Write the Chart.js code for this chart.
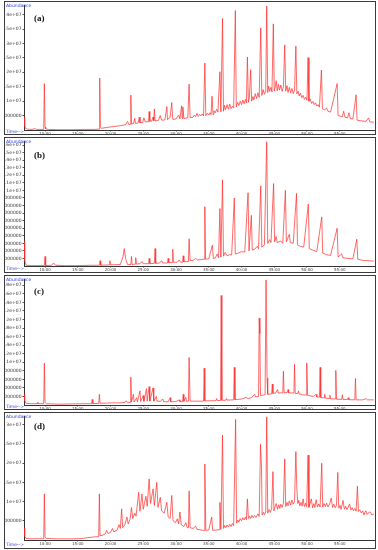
<!DOCTYPE html>
<html>
<head>
<meta charset="utf-8">
<script src="https://cdn.jsdelivr.net/npm/chart.js@4.4.1/dist/chart.umd.min.js"></script>
<style>
    body { margin: 0; background: #fff; width: 378px; height: 550px; position: relative; overflow: hidden; }
    .panel { position: absolute; left: 4px; width: 370px; border: 1px solid #3c3c3c; box-sizing: content-box; }
    .panel canvas { position: absolute; left: 0; top: 0; }
    .abund { position: absolute; left: 1px; top: 1px; font: 4.5px "DejaVu Sans", sans-serif; color: #2b3bd6; }
    .time { position: absolute; left: 1px; font: 4.5px "DejaVu Sans", sans-serif; color: #2b3bd6; }
    .tag { position: absolute; left: 29px; font: bold 9px "Liberation Serif", serif; color: #111; }
</style>
</head>
<body>
<div class="panel" id="pa" style="top:1px;height:132px"><canvas id="ca" width="370" height="132"></canvas><span class="abund">Abundance</span><span class="time" style="top:127px">Time--&gt;</span><span class="tag" style="top:11px">(a)</span></div>
<div class="panel" id="pb" style="top:137px;height:134px"><canvas id="cb" width="370" height="134"></canvas><span class="abund">Abundance</span><span class="time" style="top:128px">Time--&gt;</span><span class="tag" style="top:12px">(b)</span></div>
<div class="panel" id="pc" style="top:275px;height:133px"><canvas id="cc" width="370" height="133"></canvas><span class="abund">Abundance</span><span class="time" style="top:128px">Time--&gt;</span><span class="tag" style="top:10px">(c)</span></div>
<div class="panel" id="pd" style="top:412px;height:135px"><canvas id="cd" width="370" height="135"></canvas><span class="abund">Abundance</span><span class="time" style="top:129px">Time--&gt;</span><span class="tag" style="top:8px">(d)</span></div>
<script>
"use strict";

// Retention time axis (min) and tick labels
var timeMin = 6.79;
var timeMax = 60.23;
var timeTicks = [10, 15, 20, 25, 30, 35, 40, 45, 50, 55];

// Chromatograms: [retention time (min), abundance (x1e6)]
var traceA = [
    [6.8, 4.4], [6.9, 1.5], [7.0, 0.6], [7.3, 0.3], [8.0, 0.2], [8.5, 0.5], [8.7, 0.2], [9.8, 0.2],
    [9.9, 16.1], [10.0, 1.0], [10.1, 0.4], [10.5, 0.2], [12, 0.1], [14, 0.1], [16, 0.2], [17.5, 0.2],
    [18.25, 0.3], [18.35, 18.0], [18.45, 1.0], [18.6, 0.6], [19.5, 0.9], [20.5, 1.2], [21.5, 1.5],
    [22.3, 1.8], [22.6, 3.0], [22.8, 1.9], [23.0, 2.0], [23.1, 12.1], [23.2, 2.1], [23.5, 2.2],
    [23.7, 4.0], [23.8, 2.3], [24.2, 2.4], [24.4, 4.5], [24.5, 2.5], [24.9, 2.6], [25.1, 4.2],
    [25.3, 2.8], [25.8, 2.9], [25.9, 6.4], [26.0, 3.0], [26.3, 3.1], [26.5, 4.5], [26.6, 3.2],
    [26.7, 7.3], [26.8, 3.2], [27.3, 3.3], [27.6, 5.0], [27.8, 3.4], [28.3, 3.5], [28.6, 8.1],
    [28.7, 3.6], [29.1, 4.4], [29.35, 9.5], [29.5, 3.7], [30.0, 3.8], [30.4, 5.2], [30.6, 3.9],
    [30.85, 8.4], [30.95, 4.0], [31.05, 8.0], [31.2, 4.0], [31.8, 4.2], [32.0, 15.9], [32.15, 4.3],
    [32.6, 4.4], [32.8, 5.2], [33.0, 4.6], [33.2, 5.8], [33.4, 4.7], [33.6, 5.4], [33.8, 4.9],
    [34.0, 5.6], [34.2, 4.9], [34.4, 23.2], [34.55, 5.0], [34.8, 5.8], [35.0, 5.2], [35.2, 6.0],
    [35.35, 5.3], [35.5, 11.7], [35.65, 5.4], [35.8, 6.6], [36.0, 6.0], [36.2, 7.2], [36.4, 6.2],
    [36.7, 20.2], [36.85, 6.3], [37.1, 38.7], [37.25, 6.5], [37.4, 8.6], [37.55, 7.0], [37.8, 8.8],
    [38.0, 7.2], [38.2, 9.0], [38.4, 7.4], [38.6, 8.2], [38.8, 7.6], [39.06, 41.4], [39.2, 8.0],
    [39.4, 9.6], [39.6, 8.5], [39.8, 10.0], [40.0, 8.8], [40.2, 10.4], [40.4, 9.1], [40.6, 10.6],
    [40.75, 9.4], [40.9, 25.3], [41.05, 9.6], [41.2, 11.2], [41.4, 20.9], [41.55, 10.0], [41.75, 11.6],
    [41.9, 10.4], [42.1, 12.6], [42.3, 10.9], [42.5, 12.9], [42.7, 11.3], [42.94, 35.4], [43.1, 12.0],
    [43.3, 14.0], [43.5, 12.4], [43.7, 13.4], [43.85, 43.0], [44.0, 13.0], [44.15, 15.2], [44.3, 13.4],
    [44.5, 14.8], [44.65, 13.2], [44.86, 36.8], [45.0, 13.5], [45.15, 15.0], [45.3, 17.1], [45.45, 13.6],
    [45.65, 15.8], [45.8, 13.8], [46.0, 15.6], [46.2, 13.4], [46.4, 15.0], [46.6, 29.5], [46.75, 13.5],
    [46.95, 15.4], [47.1, 13.0], [47.3, 14.8], [47.5, 12.9], [47.7, 14.4], [47.9, 12.6], [48.1, 13.8],
    [48.3, 29.1], [48.45, 12.5], [48.65, 13.4], [48.8, 11.8], [49.0, 12.8], [49.2, 11.2], [49.4, 12.0],
    [49.6, 10.6], [49.8, 11.4], [50.0, 10.3], [50.16, 25.1], [50.3, 10.0], [50.5, 10.8], [50.7, 9.2],
    [50.9, 9.9], [51.1, 8.8], [51.3, 9.4], [51.5, 8.3], [51.7, 8.8], [51.9, 7.9], [52.2, 20.8],
    [52.35, 7.4], [52.7, 7.0], [53.0, 7.6], [53.2, 6.5], [53.6, 6.2], [54.6, 16.1], [54.75, 5.0],
    [55.4, 4.6], [55.6, 6.5], [55.8, 4.4], [56.2, 4.2], [56.4, 6.0], [56.6, 4.0], [57.0, 3.8],
    [57.5, 12.2], [57.65, 3.4], [58.2, 3.2], [59.0, 3.0], [59.4, 4.2], [59.6, 2.8], [60.2, 2.7]
];

var traceB = [
    [6.8, 3.3], [6.9, 0.8], [7.1, 0.1], [8, 0.05], [9.9, 0.05], [10.0, 1.26], [10.1, 0.05], [11.0, 0.1],
    [11.3, 0.4], [11.6, 0.1], [13, 0.05], [15, 0.05], [17, 0.1], [18.3, 0.1], [18.4, 0.7], [18.5, 0.1],
    [19.8, 0.15], [19.9, 0.7], [20.0, 0.15], [21.5, 0.2], [21.9, 1.2], [22.1, 2.3], [22.3, 1.0],
    [22.6, 0.2], [23.1, 0.2], [23.2, 1.26], [23.3, 0.2], [23.75, 0.25], [23.85, 1.1], [23.95, 0.25],
    [24.5, 0.3], [24.8, 0.6], [25.0, 0.3], [25.8, 0.3], [25.9, 1.0], [26.0, 0.3], [26.7, 0.35],
    [26.8, 2.3], [26.9, 0.35], [27.5, 0.4], [27.8, 0.7], [28.0, 0.4], [28.7, 0.4], [28.8, 1.0],
    [28.9, 0.45], [29.4, 0.45], [29.5, 2.2], [29.6, 0.5], [30.2, 0.5], [30.5, 0.8], [30.7, 0.5],
    [31.0, 0.5], [31.1, 1.35], [31.2, 0.55], [31.9, 0.6], [32.0, 3.6], [32.15, 0.7], [32.6, 0.75],
    [33.0, 1.0], [33.3, 0.8], [34.3, 0.9], [34.4, 7.85], [34.5, 0.9], [35.0, 0.95], [35.55, 2.75],
    [35.7, 1.0], [36.0, 1.05], [36.3, 1.6], [36.5, 1.1], [36.7, 7.6], [36.85, 1.2], [37.1, 11.4],
    [37.25, 1.3], [37.5, 1.8], [37.8, 1.35], [38.2, 1.5], [38.5, 1.45], [38.9, 9.0], [39.05, 1.6],
    [39.5, 1.7], [40.0, 1.9], [40.5, 1.85], [41.0, 9.7], [41.15, 2.0], [41.5, 6.7], [41.65, 2.1],
    [42.0, 2.2], [42.4, 2.6], [42.6, 2.3], [42.94, 10.6], [43.1, 2.5], [43.5, 2.8], [43.85, 16.6],
    [44.0, 3.0], [44.3, 3.5], [44.5, 3.1], [44.9, 10.9], [45.05, 3.2], [45.3, 3.9], [45.45, 3.1],
    [46.0, 3.3], [46.3, 3.0], [46.7, 10.0], [46.85, 3.2], [47.3, 4.2], [47.45, 3.1], [47.9, 3.0],
    [48.4, 9.6], [48.55, 2.8], [49.0, 2.6], [49.5, 2.5], [50.2, 8.2], [50.35, 2.3], [50.9, 2.1],
    [51.5, 1.9], [52.25, 6.5], [52.4, 1.7], [53.0, 1.5], [53.6, 1.4], [54.6, 5.0], [54.75, 1.2],
    [55.3, 1.6], [55.45, 1.1], [56.2, 1.0], [57.0, 0.95], [57.6, 3.55], [57.75, 0.9], [58.5, 0.75],
    [59.3, 0.7], [60.2, 0.65]
];

var traceC = [
    [6.8, 2.5], [6.9, 1.0], [7.1, 0.4], [8.0, 0.3], [8.85, 0.3], [8.9, 0.7], [8.95, 0.3], [9.8, 0.3],
    [9.9, 9.8], [10.0, 0.6], [10.2, 0.3], [12, 0.2], [14, 0.25], [16, 0.3], [17.1, 0.3], [17.2, 1.3],
    [17.3, 0.35], [18.2, 0.35], [18.3, 2.5], [18.4, 0.4], [19.5, 0.45], [20.5, 0.5], [21.5, 0.5],
    [22.2, 0.6], [22.4, 1.0], [22.6, 0.6], [23.0, 0.65], [23.1, 6.5], [23.2, 0.7], [23.5, 2.5],
    [23.6, 0.7], [24.0, 1.7], [24.1, 0.75], [24.5, 3.3], [24.6, 0.8], [25.0, 2.2], [25.1, 0.85],
    [25.5, 3.8], [25.6, 0.9], [25.9, 4.3], [26.0, 0.9], [26.5, 4.0], [26.6, 0.9], [27.0, 2.0],
    [27.1, 0.9], [27.6, 0.85], [28.0, 1.4], [28.1, 0.8], [28.8, 0.75], [29.1, 1.7], [29.2, 0.75],
    [30.0, 0.8], [30.5, 1.2], [30.6, 0.8], [31.0, 0.8], [31.1, 2.5], [31.2, 0.85], [31.5, 1.8],
    [31.6, 0.85], [31.9, 0.9], [32.0, 11.1], [32.15, 0.9], [33.0, 0.9], [34.2, 0.9], [34.3, 8.6],
    [34.4, 0.95], [35.5, 1.0], [36.1, 1.0], [36.2, 1.5], [36.3, 1.05], [36.8, 1.05], [36.9, 25.6],
    [37.0, 1.1], [37.6, 1.1], [37.7, 1.5], [37.8, 1.15], [38.8, 1.2], [38.9, 8.8], [39.0, 1.25],
    [40.0, 1.4], [40.8, 1.8], [40.9, 1.5], [41.5, 1.7], [42.0, 2.5], [42.15, 1.9], [42.6, 2.0],
    [42.7, 20.3], [42.8, 16.7], [42.9, 2.2], [43.6, 2.4], [43.75, 29.3], [43.9, 6.3], [44.0, 2.5],
    [44.6, 2.6], [44.7, 4.9], [44.8, 2.7], [45.2, 2.8], [45.5, 3.6], [45.6, 2.8], [46.3, 2.85],
    [46.4, 7.9], [46.5, 2.85], [47.0, 2.9], [47.1, 3.6], [47.2, 2.85], [48.0, 2.8], [48.1, 9.5],
    [48.2, 2.7], [48.6, 2.7], [48.7, 3.3], [48.8, 2.6], [49.3, 2.4], [49.9, 2.3], [49.96, 9.8],
    [50.1, 2.25], [51.0, 2.0], [51.4, 2.5], [51.5, 1.9], [51.9, 1.8], [52.0, 8.8], [52.1, 1.75],
    [52.6, 1.65], [52.7, 2.5], [52.8, 1.6], [53.4, 1.5], [53.5, 2.3], [53.6, 1.45], [54.3, 1.4],
    [54.4, 8.1], [54.5, 1.35], [55.3, 1.3], [55.4, 2.4], [55.5, 1.3], [56.2, 1.3], [56.3, 1.7],
    [56.4, 1.25], [57.3, 1.2], [57.4, 6.2], [57.5, 1.2], [58.5, 1.2], [59.0, 1.5], [59.2, 1.2],
    [60.2, 1.2]
];

var traceD = [
    [6.8, 3.1], [6.9, 1.0], [7.1, 0.4], [8.0, 0.3], [9.0, 0.35], [9.8, 0.3], [9.9, 12.0], [10.0, 0.8],
    [10.2, 0.4], [12, 0.3], [14, 0.3], [15.5, 0.35], [16.5, 0.6], [17.5, 0.8], [18.2, 0.9],
    [18.3, 12.0], [18.4, 1.1], [18.7, 1.2], [19.2, 1.6], [19.4, 2.5], [19.6, 1.7], [20.0, 2.0],
    [20.3, 3.0], [20.5, 2.1], [21.0, 2.6], [21.3, 4.0], [21.5, 3.0], [21.7, 8.1], [21.85, 3.2],
    [22.2, 4.0], [22.5, 6.0], [22.7, 4.2], [23.0, 5.5], [23.2, 8.5], [23.4, 5.6], [23.7, 7.0],
    [23.9, 6.2], [24.3, 12.4], [24.5, 7.5], [24.8, 12.0], [25.0, 8.0], [25.4, 11.4], [25.6, 8.8],
    [25.9, 15.9], [26.1, 9.5], [26.5, 13.3], [26.7, 9.0], [27.06, 15.0], [27.25, 8.5], [27.6, 11.1],
    [27.8, 7.6], [28.2, 7.0], [28.6, 9.8], [28.8, 6.0], [29.1, 5.6], [29.35, 11.6], [29.55, 5.0],
    [29.9, 4.5], [30.2, 5.5], [30.4, 4.2], [30.6, 7.3], [30.8, 4.0], [31.2, 3.5], [31.5, 4.5],
    [31.7, 3.3], [31.9, 3.2], [32.0, 12.8], [32.15, 3.2], [32.6, 3.0], [33.0, 3.6], [33.2, 2.8],
    [33.8, 2.6], [34.3, 2.5], [34.4, 19.8], [34.55, 2.5], [35.0, 2.6], [35.45, 6.0], [35.6, 2.5],
    [36.1, 2.6], [36.6, 2.7], [36.7, 9.8], [36.85, 2.8], [37.1, 27.3], [37.25, 3.0], [37.45, 3.8],
    [37.6, 3.2], [37.8, 3.9], [38.0, 3.4], [38.2, 4.1], [38.4, 3.5], [38.6, 4.3], [38.8, 3.7],
    [39.1, 31.4], [39.25, 4.4], [39.45, 5.2], [39.6, 4.6], [39.8, 5.6], [40.0, 5.0], [40.2, 5.8],
    [40.4, 5.2], [40.6, 6.0], [40.75, 5.3], [40.9, 10.7], [41.05, 5.6], [41.25, 6.2], [41.4, 5.6],
    [41.6, 6.4], [41.8, 5.8], [42.0, 6.4], [42.2, 5.9], [42.5, 6.8], [42.7, 6.1], [42.9, 24.9],
    [43.05, 19.0], [43.15, 6.5], [43.35, 7.2], [43.5, 6.6], [43.7, 7.3], [43.85, 32.1], [44.0, 7.0],
    [44.2, 7.9], [44.4, 7.2], [44.6, 8.2], [44.8, 17.8], [44.95, 7.6], [45.1, 8.6], [45.3, 9.5],
    [45.5, 8.0], [45.7, 9.2], [45.85, 8.2], [46.0, 9.3], [46.2, 8.5], [46.4, 9.6], [46.6, 21.1],
    [46.75, 8.7], [46.95, 9.8], [47.1, 8.9], [47.3, 10.2], [47.5, 9.1], [47.7, 10.4], [47.9, 9.3],
    [48.1, 10.0], [48.3, 23.0], [48.45, 13.3], [48.6, 9.5], [48.75, 10.3], [48.9, 8.9], [49.1, 9.8],
    [49.25, 8.8], [49.4, 10.7], [49.6, 8.7], [49.8, 9.6], [49.95, 8.7], [50.16, 22.1], [50.3, 8.5],
    [50.45, 9.4], [50.66, 10.7], [50.85, 8.4], [51.05, 9.5], [51.2, 8.5], [51.4, 10.5], [51.6, 8.6],
    [51.8, 9.4], [52.0, 8.6], [52.25, 20.0], [52.4, 8.6], [52.6, 9.5], [52.8, 8.7], [53.0, 9.6],
    [53.2, 8.6], [53.45, 9.4], [53.7, 10.9], [53.9, 8.5], [54.1, 9.3], [54.3, 8.4], [54.5, 9.0],
    [54.7, 17.6], [54.85, 8.3], [55.05, 9.0], [55.2, 8.0], [55.5, 10.3], [55.7, 8.0], [55.9, 8.8],
    [56.1, 7.9], [56.3, 8.6], [56.5, 9.4], [56.7, 7.8], [56.9, 8.4], [57.1, 7.6], [57.3, 8.2],
    [57.5, 7.5], [57.7, 14.0], [57.85, 7.4], [58.05, 7.9], [58.3, 7.0], [58.5, 7.6], [58.7, 6.5],
    [58.85, 7.2], [59.0, 7.6], [59.15, 6.7], [59.3, 6.8], [59.5, 7.3], [59.7, 7.2], [59.9, 6.5],
    [60.2, 6.8]
];

// y axis: top of scale and labelled abundance values
var yMaxA = 43.1e6;
var yTicksA = [5e6, 1e7, 1.5e7, 2e7, 2.5e7, 3e7, 3.5e7, 4e7];
var yMaxB = 16.45e6;
var yTicksB = [1e6, 2e6, 3e6, 4e6, 5e6, 6e6, 7e6, 8e6, 9e6, 1e7, 1.1e7, 1.2e7, 1.3e7, 1.4e7, 1.5e7, 1.6e7];
var yMaxC = 29.3e6;
var yTicksC = [2e6, 4e6, 6e6, 8e6, 1e7, 1.2e7, 1.4e7, 1.6e7, 1.8e7, 2e7, 2.2e7, 2.4e7, 2.6e7, 2.8e7];
var yMaxD = 32.1e6;
var yTicksD = [5e6, 1e7, 1.5e7, 2e7, 2.5e7, 3e7];


function abundLabel(v) {
    if (v >= 1e7) return (Math.round(v / 1e5) / 100) + 'e+07';
    return String(Math.round(v));
}

function chromatogram(id, trace, yMax, yTicks, padTop, axisH) {
    var ctx = document.getElementById(id).getContext('2d');
    return new Chart(ctx, {
        type: 'line',
        data: {
            datasets: [{
                data: trace.map(function (p) { return {x: p[0], y: p[1] * 1e6}; }),
                borderColor: '#ff2a2a',
                borderWidth: 0.7,
                pointRadius: 0,
                tension: 0,
                fill: false
            }]
        },
        options: {
            responsive: false,
            animation: false,
            events: [],
            layout: {padding: {left: 0, right: 1, top: padTop, bottom: 0}},
            plugins: {legend: {display: false}, tooltip: {enabled: false}},
            scales: {
                x: {
                    type: 'linear',
                    min: timeMin,
                    max: timeMax,
                    afterBuildTicks: function (s) {
                        s.ticks = timeTicks.map(function (t) { return {value: t}; });
                    },
                    afterFit: function (s) { s.height = axisH; },
                    grid: {drawOnChartArea: false, tickLength: 1.5, color: '#555'},
                    border: {color: '#333', width: 1},
                    ticks: {
                        font: {size: 4, family: 'DejaVu Sans'},
                        color: '#444',
                        padding: 0,
                        maxRotation: 0,
                        autoSkip: false,
                        callback: function (v) { return v + ':00'; }
                    }
                },
                y: {
                    min: 0,
                    max: yMax,
                    afterBuildTicks: function (s) {
                        s.ticks = yTicks.map(function (t) { return {value: t}; });
                    },
                    afterFit: function (s) { s.width = 19; },
                    grid: {drawOnChartArea: false, tickLength: 1.5, color: '#555'},
                    border: {color: '#333', width: 1},
                    ticks: {
                        font: {size: 4.5, family: 'DejaVu Sans'},
                        color: '#333',
                        padding: 1,
                        autoSkip: false,
                        callback: abundLabel
                    }
                }
            }
        }
    });
}

chromatogram('ca', traceA, yMaxA, yTicksA, 3, 4);
chromatogram('cb', traceB, yMaxB, yTicksB, 3, 6);
chromatogram('cc', traceC, yMaxC, yTicksC, 2, 4);
chromatogram('cd', traceD, yMaxD, yTicksD, 2, 8);
</script>
</body>
</html>
